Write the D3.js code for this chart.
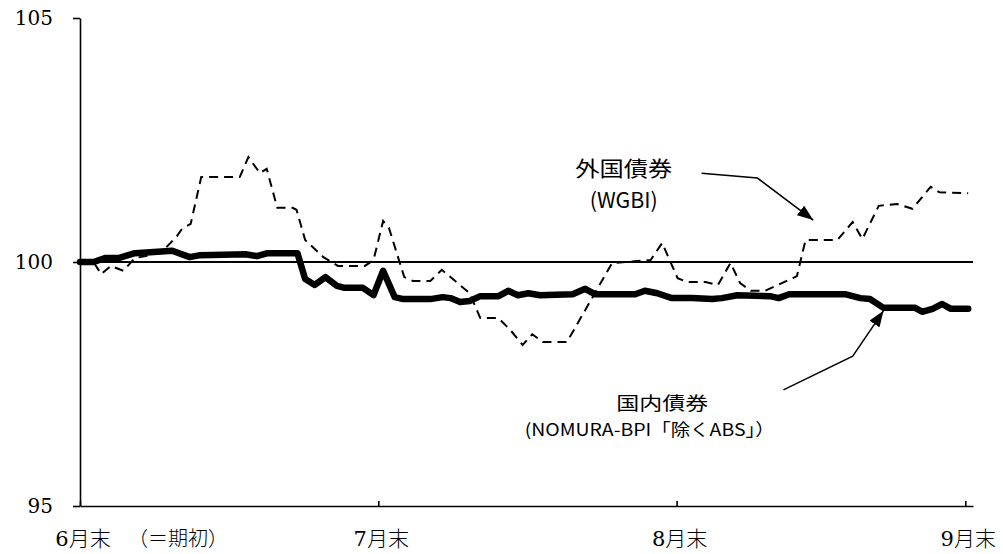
<!DOCTYPE html>
<html><head><meta charset="utf-8">
<script src="https://cdn.jsdelivr.net/npm/d3@7"></script>
<style>body{margin:0;background:#fff}svg{display:block}</style>
</head><body><svg id="c" width="1003" height="554"></svg>
<script>
// ---- data (x = calendar days after end of June) ----
const monthTickDays = [0, 31, 62, 92];
const monthTickLabels = ["6月末", "7月末", "8月末", "9月末"];
const startNote = "（＝期初）";
const yTicks = [95, 100, 105];
const baseValue = 100;

const wgbiDays = [0,1.4,2.2,3.2,4.5,5.7,7.3,8.8,10,10.6,11.5,12.6,16.6,17.5,18.7,19.4,20.5,22.1,22.5,23.4,25.3,26.8,29.6,30.5,31.5,32.1,33.3,33.7,34.6,36.4,37.6,40.5,41.6,43.5,44.7,46,47,48.1,50.6,55.3,59.3,60.5,62.1,63.1,65,66.3,67.6,68.6,69.7,71.2,74.5,75.4,78.7,80.3,81.3,83,84.9,86.5,88.4,89.3,92.3];
const wgbiVals = [100,100,99.75,99.92,99.82,100.08,100.14,100.27,100.51,100.68,100.78,101.74,101.74,102.15,101.82,101.91,101.11,101.11,101.07,100.45,100.10,99.92,99.92,100.04,100.84,100.70,99.94,99.69,99.61,99.61,99.84,99.36,98.85,98.85,98.61,98.30,98.52,98.36,98.36,99.98,100.04,100.39,99.67,99.59,99.59,99.53,99.98,99.57,99.41,99.41,99.71,100.45,100.45,100.82,100.47,101.15,101.19,101.09,101.54,101.43,101.41];

const bpiDays = [0,1.4,2.6,4.0,5.7,7.3,9.6,11.4,12.5,17.2,18.4,19.5,22.6,23.4,24.4,25.5,26.7,27.5,29.4,30.5,31.5,32.7,33.6,36.4,37.7,38.5,39.5,40.5,41.6,43.5,44.5,45.5,46.6,47.8,51.2,52.5,53.5,57.7,58.7,60.0,61.5,63.6,65.7,66.7,68.3,71.7,72.6,73.7,79.5,81.1,82.1,83.5,86.8,87.5,88.6,89.6,90.5,92.3];
const bpiVals = [100,100,100.08,100.08,100.18,100.20,100.23,100.10,100.14,100.16,100.12,100.18,100.18,99.65,99.53,99.69,99.51,99.47,99.47,99.32,99.82,99.28,99.24,99.24,99.28,99.26,99.18,99.20,99.30,99.30,99.41,99.32,99.36,99.32,99.34,99.45,99.34,99.34,99.41,99.36,99.26,99.26,99.24,99.26,99.32,99.30,99.26,99.34,99.34,99.26,99.24,99.06,99.06,98.98,99.04,99.14,99.04,99.04];

const wgbiLabel = ["外国債券", "(WGBI)"];
const bpiLabel = ["国内債券", "(NOMURA-BPI「除くABS」）"];

// annotation anchors in data space [day, value]
const wgbiLabelPos = [[56.5, 101.95], [56.5, 101.29]];
const bpiLabelPos = [[60.5, 97.13], [59.2, 96.58]];
const wgbiArrow = [[64.6, 101.82], [70.4, 101.72], [76.2, 100.86]];
const bpiArrow = [[73.1, 97.38], [80.3, 98.07], [83.5, 99.0]];

// ---- drawing ----
const svg = d3.select("#c");
const x = d3.scaleLinear().domain([0, 92.8]).range([80, 973]);
const y = d3.scaleLinear().domain([95, 105]).range([506, 18]);

svg.append("defs").append("marker")
  .attr("id", "ah").attr("viewBox", "0 0 16 12").attr("refX", 16).attr("refY", 6)
  .attr("markerWidth", 16).attr("markerHeight", 12).attr("markerUnits", "userSpaceOnUse")
  .attr("orient", "auto")
  .append("path").attr("d", "M0,0 L16,6 L0,12 Z").attr("fill", "#000");

// base line at 100
svg.append("line")
  .attr("x1", x(0)).attr("x2", x(92.8))
  .attr("y1", y(baseValue)).attr("y2", y(baseValue))
  .attr("stroke", "#000").attr("stroke-width", 2);

const line = d3.line().x(d => x(d[0])).y(d => y(d[1]));

svg.append("path")
  .datum(d3.zip(wgbiDays, wgbiVals))
  .attr("d", line).attr("fill", "none").attr("stroke", "#000")
  .attr("stroke-width", 2).attr("stroke-dasharray", "9,6");

svg.append("path")
  .datum(d3.zip(bpiDays, bpiVals))
  .attr("d", line).attr("fill", "none").attr("stroke", "#000")
  .attr("stroke-width", 6.5).attr("stroke-linejoin", "round").attr("stroke-linecap", "round");

// axes
const yAxis = svg.append("g").attr("transform", `translate(${x(0)},0)`)
  .call(d3.axisLeft(y).tickValues(yTicks).tickSizeInner(7).tickSizeOuter(0).tickPadding(20).tickFormat(d3.format("d")));
yAxis.select(".domain").attr("stroke-width", 1.6);
yAxis.selectAll(".tick line").attr("stroke-width", 1.6);
yAxis.selectAll("text").attr("font-family", "'DejaVu Serif', serif").attr("font-size", 20).attr("fill", "#000");

const xAxis = svg.append("g").attr("transform", `translate(0,${y(95)})`)
  .call(d3.axisBottom(x).tickValues(monthTickDays).tickSizeInner(-5).tickSizeOuter(0).tickFormat(() => ""));
xAxis.select(".domain").attr("stroke-width", 1.6);
xAxis.selectAll(".tick line").attr("stroke-width", 1.6);

const xl = svg.append("g");
monthTickDays.forEach((d, i) => {
  const t = xl.append("text").attr("x", x(d) + 3).attr("y", 546)
    .attr("text-anchor", "middle").attr("font-size", 21).attr("fill", "#000");
  const lab = monthTickLabels[i];
  t.append("tspan").attr("font-family", "'DejaVu Serif', serif").text(lab.slice(0, 1));
  t.append("tspan").attr("font-family", "'Noto Sans CJK JP'").attr("font-weight", 300).text(lab.slice(1));
});
xl.append("text").attr("x", x(0) + 48).attr("y", 546)
  .attr("font-family", "'Noto Sans CJK JP'").attr("font-weight", 300).attr("font-size", 20).attr("fill", "#000")
  .text(startNote);

// annotations
function label(pos, txt, size, len) {
  svg.append("text").attr("x", x(pos[0])).attr("y", y(pos[1]))
    .attr("text-anchor", "middle").attr("dominant-baseline", "central")
    .attr("font-family", "'Noto Sans CJK JP'").attr("font-size", size).attr("fill", "#000")
    .attr("textLength", len).attr("lengthAdjust", "spacingAndGlyphs")
    .text(txt);
}
label(wgbiLabelPos[0], wgbiLabel[0], 21, 97);
label(wgbiLabelPos[1], wgbiLabel[1], 21, 68);
label(bpiLabelPos[0], bpiLabel[0], 18, 92);
label(bpiLabelPos[1], bpiLabel[1], 17, 250);

const arrowLine = d3.line().x(d => x(d[0])).y(d => y(d[1]));
[wgbiArrow, bpiArrow].forEach(a => {
  svg.append("path").attr("d", arrowLine(a)).attr("fill", "none")
    .attr("stroke", "#000").attr("stroke-width", 1.5).attr("marker-end", "url(#ah)");
});
</script></body></html>
